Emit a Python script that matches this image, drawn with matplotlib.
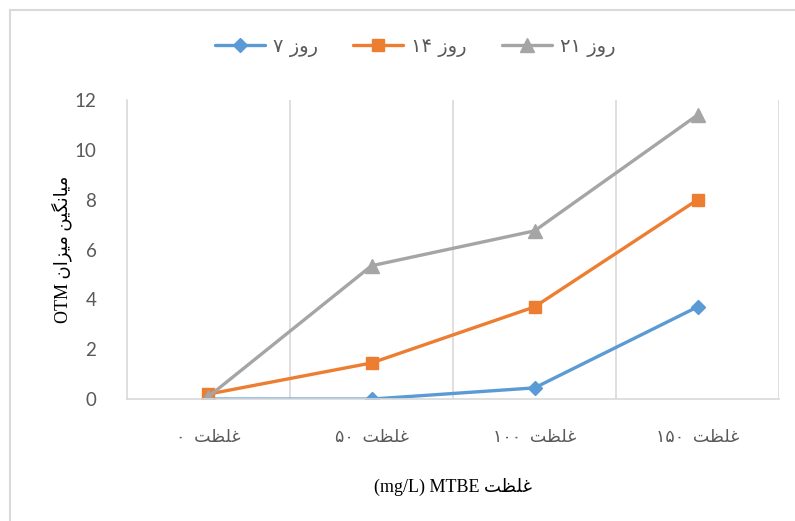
import matplotlib.pyplot as plt
from matplotlib.patches import Rectangle

# Persian text is written here in visual (left-to-right) order with
# presentation forms, since matplotlib does no Arabic shaping/bidi.
ghelzat = '\ufe96\ufec8\ufee0\ufecf'          # غلظت
rooz = '\u0632\u0648\u0631'                     # روز
meyangin = '\ufee6\ufbff\ufb95\ufee7\ufe8e\ufbff\ufee3'  # میانگین
mizan = '\ufee5\ufe8d\ufeb0\ufbff\ufee3'        # میزان

categories = ['\u06f0  ' + ghelzat,
              '\u06f5\u06f0  ' + ghelzat,
              '\u06f1\u06f0\u06f0  ' + ghelzat,
              '\u06f1\u06f5\u06f0  ' + ghelzat]
series_names = ['\u06f7 ' + rooz, '\u06f1\u06f4 ' + rooz, '\u06f2\u06f1 ' + rooz]

day7 = [0.0, 0.0, 0.45, 3.7]
day14 = [0.2, 1.45, 3.7, 8.0]
day21 = [0.1, 5.35, 6.75, 11.4]

colors = ['#5B9BD5', '#ED7D31', '#A5A5A5']
markers = ['D', 's', '^']
msizes = [7, 9, 10]

fig = plt.figure(figsize=(7.95, 5.21), dpi=100)
# light chart border (only top/left visible in the reference)
fig.patches.append(Rectangle((10 / 795, -0.1), 1.2, 1 - 10 / 521 + 0.1,
                             transform=fig.transFigure, fill=False,
                             edgecolor='#D9D9D9', lw=1.5))
ax = fig.add_axes([0.1597, 0.234, 0.8203, 0.574])

x = range(len(categories))
for vals, name, c, m, ms in zip([day7, day14, day21], series_names, colors, markers, msizes):
    ax.plot(x, vals, color=c, lw=2.4, marker=m, markersize=ms, label=name,
            solid_capstyle='round')

ax.set_xlim(-0.5, 3.5)
ax.set_ylim(0, 12)
ax.set_yticks(range(0, 13, 2))
ax.set_xticks(list(x))
ax.set_xticklabels(categories, family=['Liberation Serif', 'DejaVu Sans'],
                   fontsize=12.5, color='#595959')
for lab in ax.get_yticklabels():
    lab.set_family('Lato')
    lab.set_fontsize(13.5)
    lab.set_color('#595959')
ax.tick_params(length=0)
ax.tick_params(axis='x', pad=22)
ax.tick_params(axis='y', pad=22)

for b in [0.5, 1.5, 2.5, 3.5]:
    ax.axvline(b, color='#D9D9D9', lw=1.2, zorder=0)
for s in ['top', 'right']:
    ax.spines[s].set_visible(False)
ax.spines['left'].set_color('#D9D9D9')
ax.spines['bottom'].set_color('#D9D9D9')
ax.spines['left'].set_linewidth(1.2)
ax.spines['bottom'].set_linewidth(1.2)

ax.set_xlabel('(mg/L) MTBE ' + ghelzat, family=['Liberation Serif', 'DejaVu Sans'],
              fontsize=13, labelpad=23)
ax.set_ylabel('OTM ' + mizan + ' ' + meyangin, family=['Liberation Serif', 'DejaVu Sans'],
              fontsize=13, labelpad=2)

leg = ax.legend(loc='center', bbox_to_anchor=(415 / 795, 1 - 47 / 521),
                bbox_transform=fig.transFigure, ncol=3, frameon=False,
                prop={'family': ['DejaVu Sans'], 'size': 14}, handlelength=2.6,
                columnspacing=1.8, handletextpad=0.4)
for t in leg.get_texts():
    t.set_color('#595959')

fig.savefig('out.png', dpi=100)
